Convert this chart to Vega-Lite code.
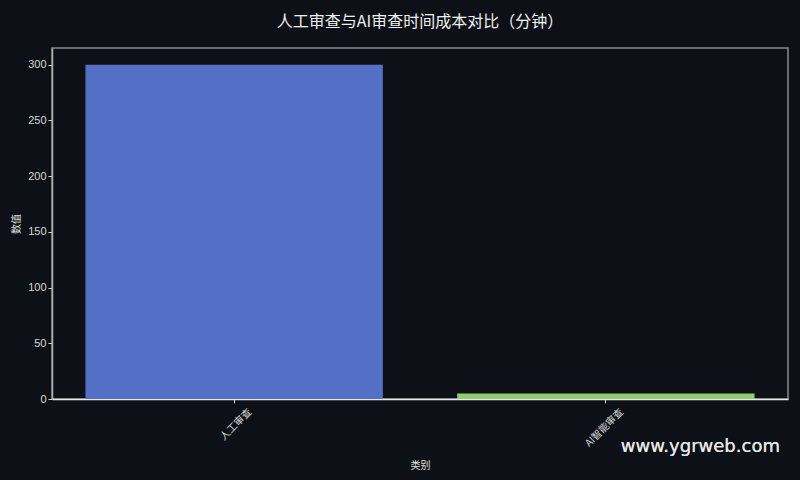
{
  "$schema": "https://vega.github.io/schema/vega-lite/v6.json",
  "width": 736,
  "height": 351,
  "autosize": {"type": "none"},
  "padding": {"left": 52, "top": 48, "right": 12, "bottom": 81},
  "background": "#0d1117",
  "title": {
    "text": "人工审查与AI审查时间成本对比（分钟）",
    "font": "Noto Sans CJK SC",
    "fontSize": 16,
    "fontWeight": "normal",
    "color": "#f0f0f0",
    "offset": 18,
    "anchor": "middle"
  },
  "config": {
    "view": {"stroke": "#8a8a8a", "strokeWidth": 1.5},
    "axis": {
      "labelFont": "Liberation Sans",
      "labelFontSize": 11,
      "labelColor": "#d8d8d8",
      "titleFont": "Noto Sans CJK SC",
      "titleFontSize": 10,
      "titleFontWeight": "normal",
      "titleColor": "#e0e0e0",
      "tickColor": "#d8d8d8",
      "tickSize": 4,
      "grid": false
    }
  },
  "data": {
    "values": [
      {"类别": "人工审查", "数值": 300},
      {"类别": "AI智能审查", "数值": 5}
    ]
  },
  "layer": [
    {
      "mark": {"type": "bar", "clip": false},
      "encoding": {
        "x": {
          "field": "类别",
          "type": "nominal",
          "sort": null,
          "title": "类别",
          "scale": {"paddingInner": 0.2, "paddingOuter": 0.09},
          "axis": {
            "labelAngle": -45,
            "labelAlign": "right",
            "labelBaseline": "middle",
            "labelFont": "Noto Sans CJK SC",
            "labelFontSize": 10,
            "labelPadding": 7,
            "labelOffset": 16,
            "titlePadding": 12,
            "domainColor": "#e8e8e8",
            "domainWidth": 1.5
          }
        },
        "y": {
          "field": "数值",
          "type": "quantitative",
          "title": "数值",
          "scale": {"domain": [0, 315], "nice": false},
          "axis": {
            "values": [0, 50, 100, 150, 200, 250, 300],
            "titlePadding": 6,
            "domainColor": "#b0b0b0",
            "domainWidth": 1.5
          }
        },
        "color": {
          "field": "类别",
          "type": "nominal",
          "sort": null,
          "scale": {"range": ["#5470c6", "#91cc75"]},
          "legend": null
        }
      }
    },
    {
      "mark": {
        "type": "text",
        "text": "www.ygrweb.com",
        "font": "DejaVu Sans",
        "fontSize": 18,
        "color": "#e6e6e6",
        "align": "left",
        "baseline": "alphabetic",
        "dx": 15,
        "clip": false
      },
      "encoding": {
        "x": {"datum": "AI智能审查"},
        "y": {"datum": -48}
      }
    }
  ]
}
